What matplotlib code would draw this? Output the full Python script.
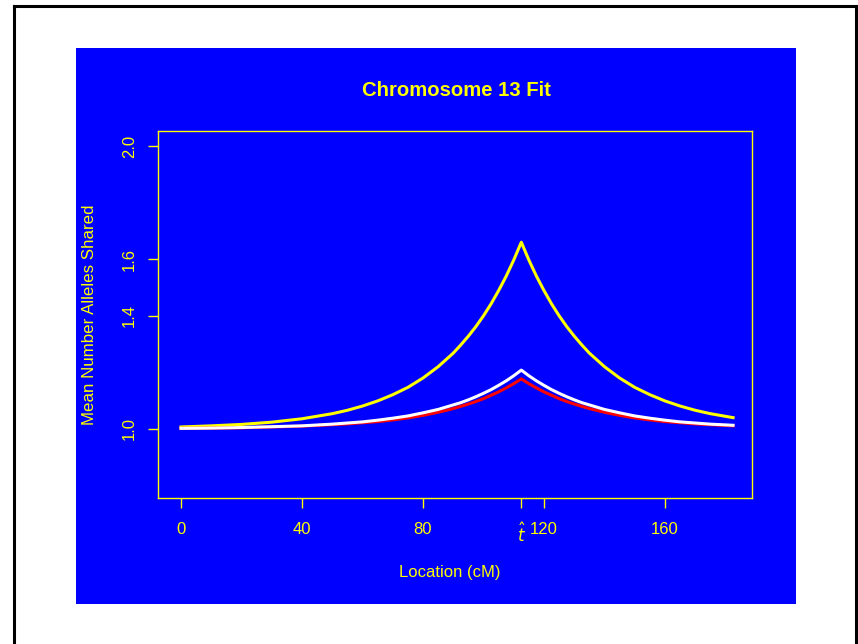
import matplotlib
matplotlib.use("Agg")
import matplotlib.pyplot as plt
from matplotlib.patches import Rectangle
from matplotlib.lines import Line2D

plt.rcParams['font.family'] = ['Liberation Sans', 'DejaVu Sans']

# Data
location_cm = [0, 10, 20, 30, 40, 50, 55, 60, 65, 70, 75, 80, 85, 90, 92.5, 95, 97.5,
               100, 102.5, 105, 107.5, 110, 112.5,
               115, 117.5, 120, 122.5, 125, 127.5, 130, 132.5, 135, 140, 145, 150,
               155, 160, 165, 170, 175, 182.5]
yellow_fit = [1.007, 1.011, 1.016, 1.024, 1.036, 1.054, 1.066, 1.081, 1.099, 1.121,
              1.147, 1.180, 1.220, 1.268, 1.297, 1.328, 1.362, 1.400, 1.442, 1.489,
              1.540, 1.597, 1.660,
              1.597, 1.540, 1.489, 1.442, 1.400, 1.362, 1.328, 1.297, 1.268, 1.220,
              1.180, 1.147, 1.121, 1.099, 1.081, 1.066, 1.054, 1.040]
white_fit = [1.002, 1.003, 1.005, 1.008, 1.011, 1.017, 1.021, 1.025, 1.031, 1.038,
             1.046, 1.057, 1.069, 1.085, 1.093, 1.103, 1.114, 1.126, 1.139, 1.154,
             1.170, 1.188, 1.208,
             1.188, 1.170, 1.154, 1.139, 1.126, 1.114, 1.103, 1.093, 1.085, 1.069,
             1.057, 1.046, 1.038, 1.031, 1.025, 1.021, 1.017, 1.013]
red_fit = [1.002, 1.003, 1.004, 1.007, 1.010, 1.015, 1.018, 1.022, 1.026, 1.032,
           1.039, 1.048, 1.059, 1.072, 1.080, 1.088, 1.097, 1.107, 1.119, 1.131,
           1.145, 1.160, 1.177,
           1.160, 1.145, 1.131, 1.119, 1.107, 1.097, 1.088, 1.080, 1.072, 1.059,
           1.048, 1.039, 1.032, 1.026, 1.022, 1.018, 1.015, 1.011]
x_ticks = [0, 40, 80, 112.5, 120, 160]
x_tick_labels = ['0', '40', '80', r'$\hat{t}$', '120', '160']
y_ticks = [1.0, 1.4, 1.6, 2.0]
y_tick_labels = ['1.0', '1.4', '1.6', '2.0']

W, H = 858, 644
fig = plt.figure(figsize=(W / 100, H / 100), dpi=100)
fig.patch.set_facecolor('white')

def fx(px):
    return px / W

def fy(py):
    return 1 - py / H

# outer black frame
for (x0, y0, x1, y1) in [(14, 6, 856, 6), (14, 6, 14, 660), (856, 6, 856, 660)]:
    fig.add_artist(Line2D([fx(x0), fx(x1)], [fy(y0), fy(y1)], color='black',
                          lw=2.2, transform=fig.transFigure, solid_capstyle='projecting'))

# blue panel
fig.add_artist(Rectangle((fx(76), fy(604)), fx(796) - fx(76), fy(48) - fy(604),
                         transform=fig.transFigure, facecolor='#0000FF',
                         edgecolor='none', zorder=0))

ax = fig.add_axes([fx(158), fy(498), fx(752) - fx(158), fy(131) - fy(498)])
ax.set_facecolor('none')

ax.plot(location_cm, yellow_fit, color='#FFFF00', lw=2.2, zorder=3)
ax.plot(location_cm, red_fit, color='#FF0000', lw=2.2, zorder=4)
ax.plot(location_cm, white_fit, color='#FFFFFF', lw=2.2, zorder=5)

ax.set_xlim(-7.6, 188.76)
ax.set_ylim(0.756, 2.053)

for s in ax.spines.values():
    s.set_color('#FFFF00')
    s.set_linewidth(1.0)

ax.set_xticks(x_ticks)
ax.set_xticklabels(x_tick_labels)
ax.set_yticks(y_ticks)
ax.set_yticklabels(y_tick_labels, rotation=90, va='center')
ax.tick_params(axis='both', colors='#FFFF00', labelcolor='#FFFF00', labelsize=12,
               length=7, width=1.0, direction='out')
ax.tick_params(axis='x', pad=10)
ax.tick_params(axis='y', pad=8)

fig.text(fx(456), fy(91), 'Chromosome 13 Fit', color='#FFFF00', fontsize=14.6,
         fontweight='bold', ha='center', va='center')
fig.text(fx(450), fy(572), 'Location (cM)', color='#FFFF00', fontsize=12,
         ha='center', va='center')
fig.text(fx(89), fy(315), 'Mean Number Alleles Shared', color='#FFFF00', fontsize=12.2,
         ha='center', va='center', rotation=90)

fig.savefig('out.png', dpi=100, facecolor='white')
